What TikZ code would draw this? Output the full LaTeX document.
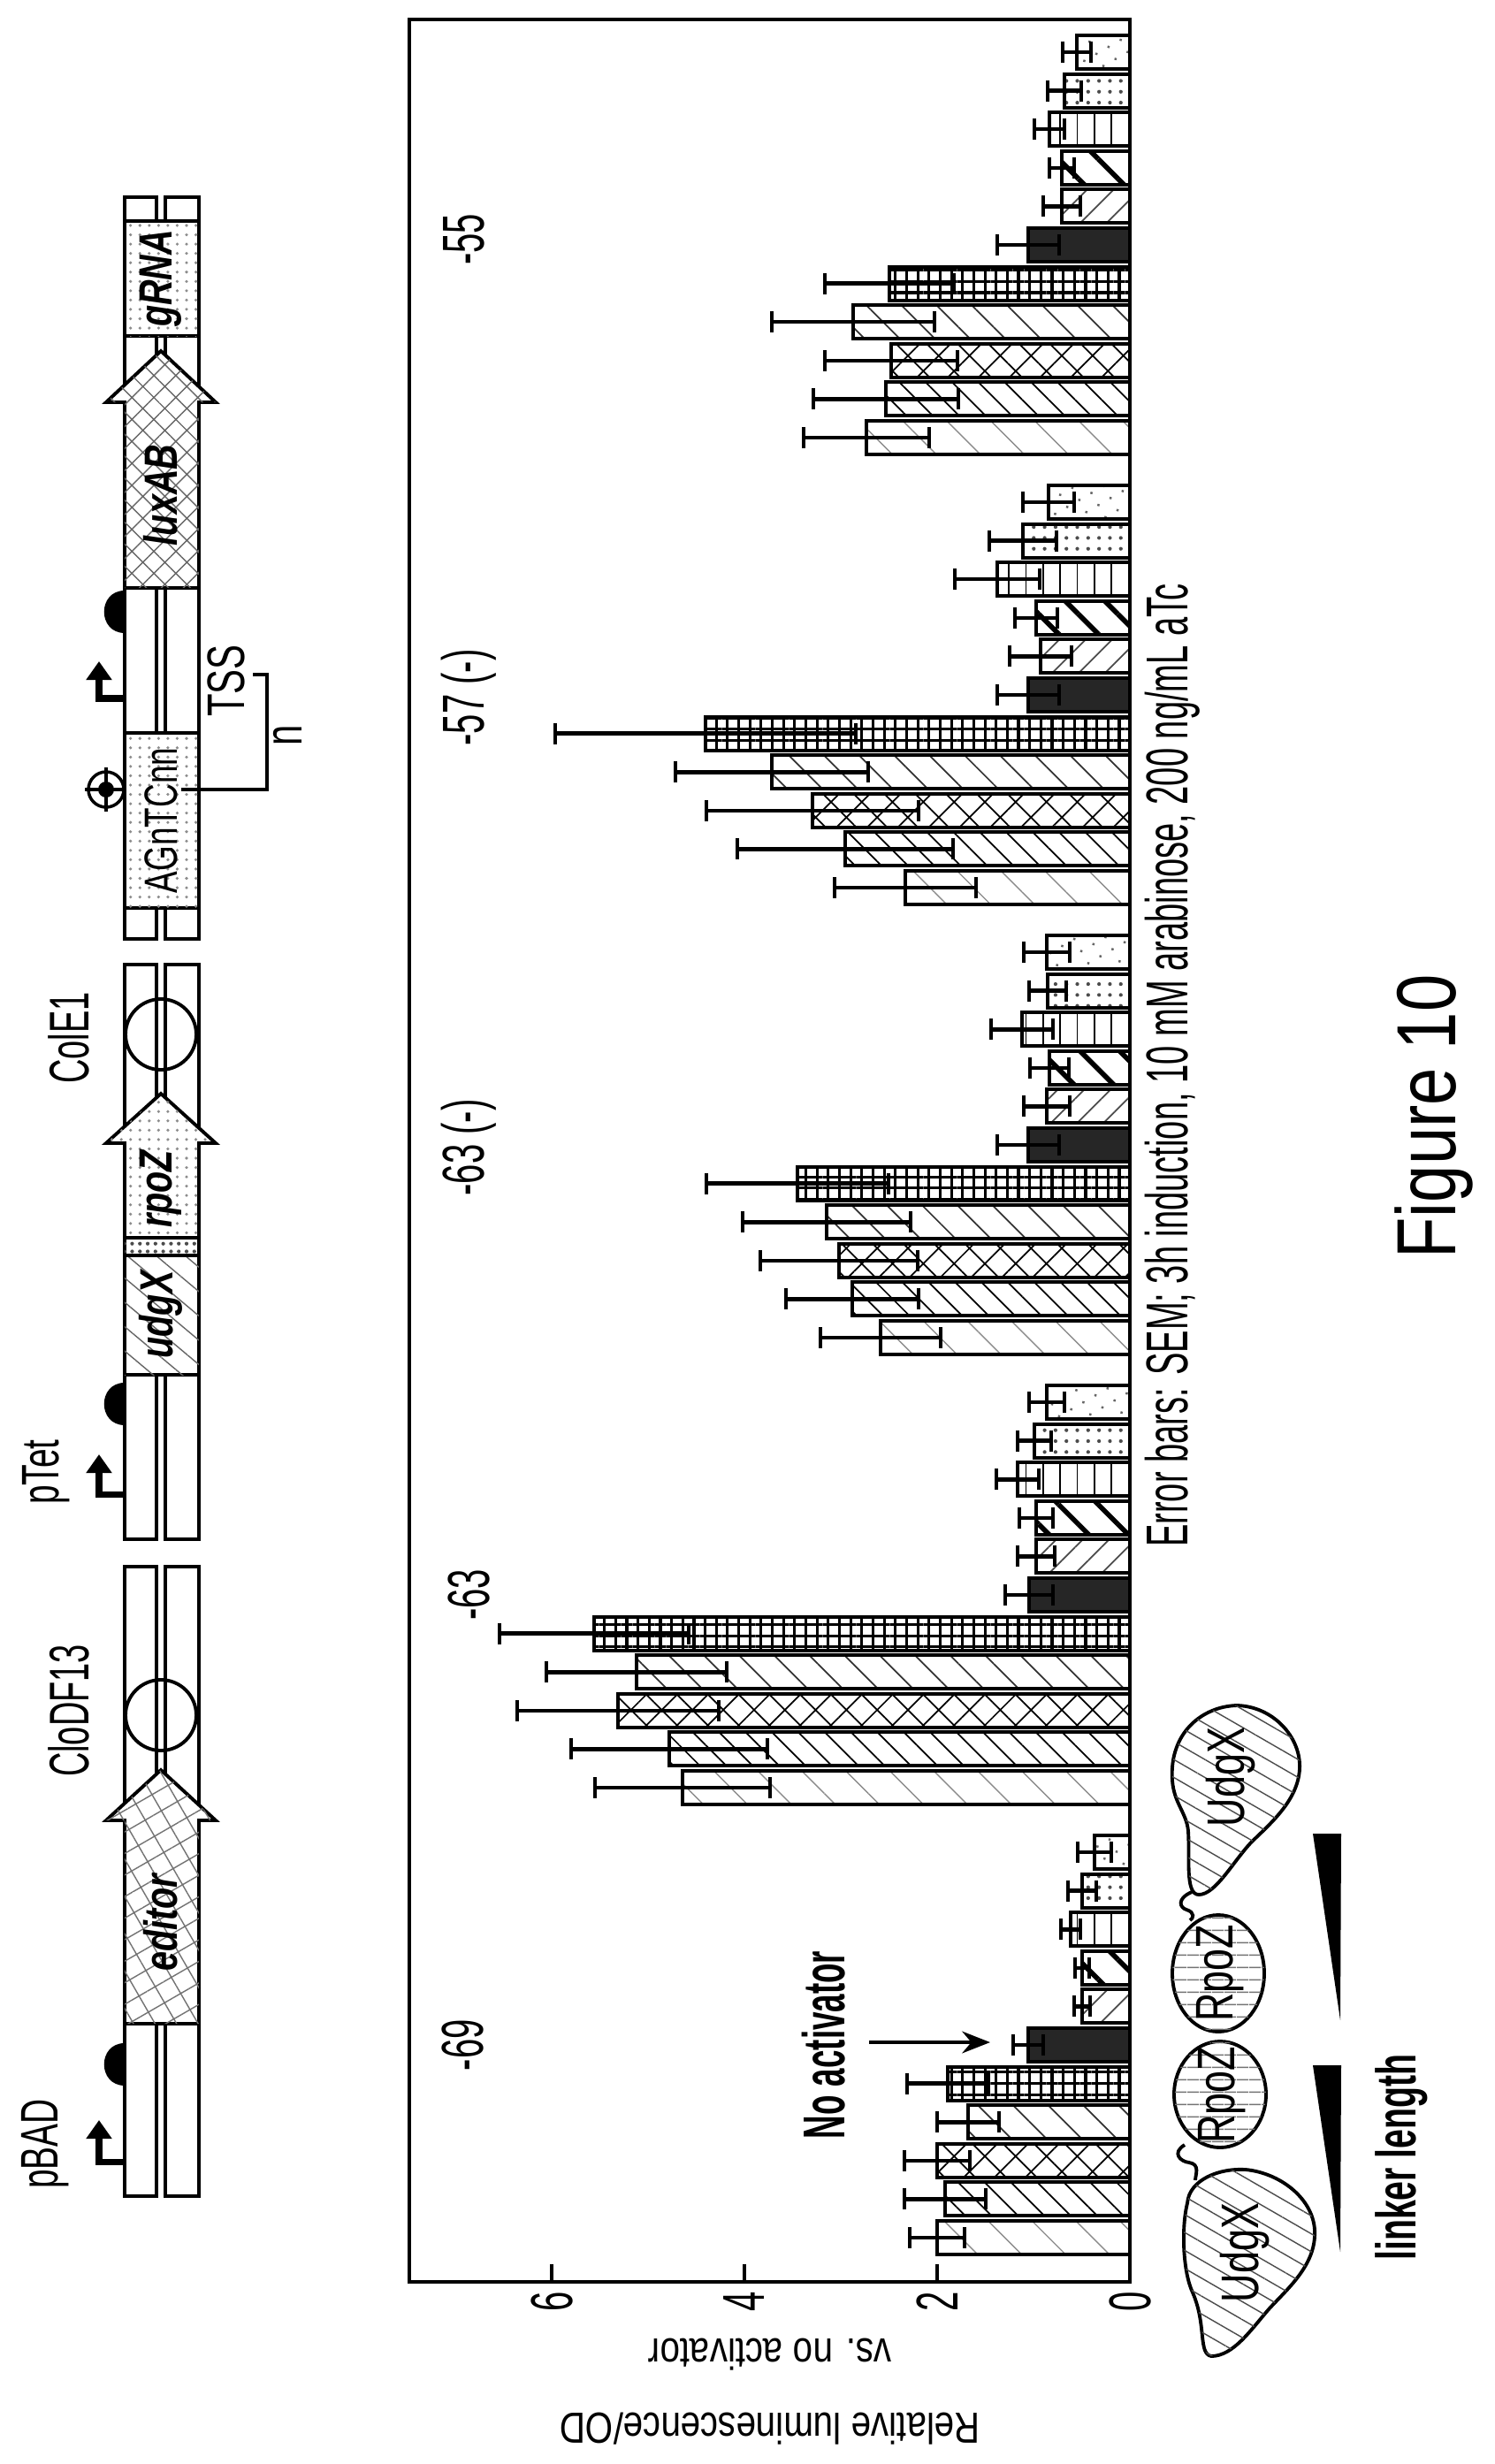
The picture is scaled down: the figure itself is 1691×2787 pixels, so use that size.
\documentclass[tikz,border=0pt]{standalone}
\usepackage{fontspec}
\usepackage{graphicx}
\setmainfont{Liberation Sans}
\usetikzlibrary{patterns,patterns.meta,arrows.meta}
\newcommand\nar[2][0.6]{\scalebox{#1}[1]{#2}}
\newcommand\fsz[1]{\fontsize{#1}{#1}\selectfont}
\tikzset{
  barout/.style={draw=black,line width=1.1pt},
  b0/.style={pattern={Lines[angle=-45,distance=10pt,line width=0.4pt]},pattern color=black!45},
  b1/.style={pattern={Lines[angle=-45,distance=6pt,line width=0.5pt]}},
  b2/.style={pattern={Hatch[angle=45,distance=7pt,line width=0.5pt]}},
  b3/.style={pattern={Lines[angle=-45,distance=8pt,line width=0.5pt]},pattern color=black!80},
  b4/.style={pattern={Hatch[angle=0,distance=3.6pt,line width=0.9pt]}},
  b5/.style={fill=black!85},
  b6/.style={pattern={Lines[angle=45,distance=6pt,line width=0.5pt]},pattern color=black!70},
  b7/.style={pattern={Lines[angle=-45,distance=9pt,line width=1.6pt]}},
  b8/.style={pattern={Lines[angle=90,distance=5.5pt,line width=0.5pt]}},
  b9/.style={pattern={Dots[radius=0.6pt,distance=3.5pt]},pattern color=black!70},
  b10/.style={pattern={Dots[radius=0.5pt,distance=4.5pt,angle=30]},pattern color=black!60},
  eb/.style={line width=1.3pt},
  lab/.style={rotate=90,inner sep=0pt,font=\fsz{19pt}},
  strand/.style={line width=1.1pt},
  gene/.style={draw,line width=1.1pt},
  prom/.style={line width=2pt,-{Triangle[width=8pt,length=6pt]}},
  glab/.style={rotate=90,inner sep=0pt,font=\fsz{15pt}\bfseries\itshape},
  blob/.style={draw,line width=1.1pt,fill=white},
}
\begin{document}
\begin{tikzpicture}[x=0.01cm,y=-0.01cm]
\useasboundingbox (0,0) rectangle (1691,2787);

% ---------------- chart frame ----------------
\draw[line width=1.2pt] (463,22) rectangle (1278,2581);
\foreach \v/\X in {0/1278,2/1060,4/842,6/624}{
  \draw[line width=1.2pt] (\X,2581) -- (\X,2561);
  \node[lab] (tick\v) at (\X,2603) {\nar{\v}};
}
\node[rotate=180,align=center,inner sep=0pt,font=\fsz{14pt}] (ytitle) at (871,2705)
  {\nar[0.82]{Relative luminescence/OD}\\[10pt]\nar[0.82]{vs. no activator}};

% ---------------- bars ----------------
\foreach \g/\i/\l/\e in {
 0/0/980/909, 0/1/1002/920, 0/2/1008/933, 0/3/965/873, 0/4/1006/933, 0/5/1163/1128, 0/6/1201/1180, 0/7/1201/1187, 0/8/1187/1170, 0/9/1204/1185, 0/10/1218/1202,
 1/0/1024/944, 1/1/956/834, 1/2/919/799, 1/3/873/764, 1/4/798/628, 1/5/1163/1128, 1/6/1177/1142, 1/7/1172/1148, 1/8/1128/1080, 1/9/1157/1119, 1/10/1186/1157,
 2/0/996/928, 2/1/964/889, 2/2/949/860, 2/3/935/840, 2/4/902/799, 2/5/1163/1128, 2/6/1184/1158, 2/7/1187/1165, 2/8/1156/1121, 2/9/1185/1164, 2/10/1184/1158,
 3/0/772/673, 3/1/757/646, 3/2/699/585, 3/3/720/618, 3/4/672/565, 3/5/1164/1137, 3/6/1172/1151, 3/7/1172/1153, 3/8/1151/1127, 3/9/1170/1151, 3/10/1184/1164,
 4/0/1060/1029, 4/1/1069/1023, 4/2/1060/1023, 4/3/1095/1060, 4/4/1072/1026, 4/5/1163/1146, 4/6/1224/1215, 4/7/1224/1216, 4/8/1211/1200, 4/9/1224/1208, 4/10/1238/1219}{
  \pgfmathsetmacro\yt{40+509*\g+(10-\i)*43.6}
  \pgfmathsetmacro\yb{\yt+38}
  \pgfmathsetmacro\yc{\yt+19}
  \pgfmathsetmacro\ein{2*\l-\e}
  \fill[white] (\l,\yt) rectangle (1278,\yb);
  \path[b\i] (\l,\yt) rectangle (1278,\yb);
  \draw[barout] (\l,\yt) rectangle (1278,\yb);
  \draw[eb] (\e,\yc) -- (\ein,\yc);
  \draw[eb] (\e,\yc-12) -- (\e,\yc+12);
  \draw[eb] (\ein,\yc-12) -- (\ein,\yc+12);
}

\node[lab] (g55) at (525,271) {\nar{-55}};
\node[lab] (g57) at (530,789) {\nar{-57 (-)}};
\node[lab] (g63m) at (530,1298) {\nar{-63 (-)}};
\node[lab] (g63) at (530,1804) {\nar{-63}};
\node[lab] (g69) at (523,2313) {\nar{-69}};

\node[lab,font=\fsz{19pt}\bfseries] (noact) at (932,2313) {\nar[0.55]{No activator}};
\coordinate (na1) at (983,2310);
\coordinate (na2) at (1120,2310);
\draw[line width=1.3pt,-{Stealth[length=9pt,width=7pt]}] (na1) -- (na2);

\node[lab] (errtxt) at (1326,1205) {\nar[0.57]{Error bars: SEM; 3h induction, 10 mM arabinose, 200 ng/mL aTc}};
\node[rotate=90,inner sep=0pt,font=\fsz{27pt}] (fig) at (1622,1263) {\nar[0.8]{Figure 10}};

% ---------------- plasmids ----------------
\foreach \a/\b in {1772/2484,1091/1741,223/1062}{
  \draw[strand] (141,\a) rectangle (177,\b);
  \draw[strand] (187,\a) rectangle (225,\b);
}
% P1
\draw[gene,fill=white] (141,2289) -- (141,2059) -- (120,2059) -- (182,2002) -- (244,2059) -- (225,2059) -- (225,2289) -- cycle;
\path[pattern={Hatch[angle=30,distance=6pt,line width=0.4pt]},pattern color=black!55] (141,2289) -- (141,2059) -- (120,2059) -- (182,2002) -- (244,2059) -- (225,2059) -- (225,2289) -- cycle;
\node[glab] (editor) at (182,2175) {\nar[0.75]{editor}};
\draw[line width=1.1pt] (182,1940) circle (40);
\fill (141,2311) .. controls (110,2311) and (110,2359) .. (141,2359) -- cycle;
\coordinate (p1a) at (141,2445);
\coordinate (p1b) at (112,2398);
\draw[prom] (p1a) -| (p1b);
\node[lab,font=\fsz{17pt}] (pBAD) at (51,2425) {\nar[0.65]{pBAD}};
\node[lab,font=\fsz{18pt}] (CloDF) at (78,1935) {\nar[0.6]{CloDF13}};

% P2
\fill (141,1564) .. controls (110,1564) and (110,1612) .. (141,1612) -- cycle;
\coordinate (p2a) at (141,1690);
\coordinate (p2b) at (112,1645);
\draw[prom] (p2a) -| (p2b);
\draw[gene,fill=white] (141,1420) rectangle (225,1555);
\path[pattern={Lines[angle=-40,distance=6pt,line width=0.4pt]},pattern color=black!60] (141,1420) rectangle (225,1555);
\node[glab] (udgX) at (182,1487) {\nar[0.75]{udgX}};
\draw[gene,fill=white] (141,1400) rectangle (225,1420);
\path[pattern={Dots[radius=0.6pt,distance=2.5pt]},pattern color=black!70] (141,1400) rectangle (225,1420);
\draw[gene,fill=white] (141,1400) -- (141,1293) -- (120,1293) -- (182,1237) -- (244,1293) -- (225,1293) -- (225,1400) -- cycle;
\path[pattern={Dots[radius=0.5pt,distance=3pt]},pattern color=black!45] (141,1400) -- (141,1293) -- (120,1293) -- (182,1237) -- (244,1293) -- (225,1293) -- (225,1400) -- cycle;
\node[glab] (rpoZ) at (182,1345) {\nar[0.75]{rpoZ}};
\draw[line width=1.1pt] (182,1170) circle (40);
\node[lab,font=\fsz{17pt}] (pTet) at (52,1665) {\nar[0.65]{pTet}};
\node[lab,font=\fsz{18pt}] (ColE) at (78,1174) {\nar[0.6]{ColE1}};

% P3
\draw[gene,fill=white] (141,829) rectangle (225,1027);
\path[pattern={Dots[radius=0.5pt,distance=3pt]},pattern color=black!45] (141,829) rectangle (225,1027);
\node[lab,font=\fsz{15pt}] (agn) at (182,928) {\nar[0.7]{AGnTCnn}};
\coordinate (p3a) at (141,790);
\coordinate (p3b) at (112,748);
\draw[prom] (p3a) -| (p3b);
\fill (141,668) .. controls (110,668) and (110,716) .. (141,716) -- cycle;
\draw[gene,fill=white] (141,665) -- (141,455) -- (120,455) -- (182,397) -- (244,455) -- (225,455) -- (225,665) -- cycle;
\path[pattern={Hatch[angle=45,distance=5pt,line width=0.4pt]},pattern color=black!60] (141,665) -- (141,455) -- (120,455) -- (182,397) -- (244,455) -- (225,455) -- (225,665) -- cycle;
\node[glab] (lux) at (182,560) {\nar[0.75]{luxAB}};
\draw[gene,fill=white] (141,250) rectangle (225,380);
\path[pattern={Dots[radius=0.5pt,distance=3pt]},pattern color=black!45] (141,250) rectangle (225,380);
\node[glab] (gRNA) at (182,315) {\nar[0.75]{gRNA}};
% target symbol
\draw[line width=1pt] (120,893) circle (20);
\draw[line width=1.2pt] (96,893) -- (143,893);
\draw[line width=1.2pt] (120,868) -- (120,918);
\fill (120,893) circle (9);
% TSS bracket
\coordinate (t1) at (205,893);
\coordinate (t2) at (302,893);
\coordinate (t3) at (302,763);
\coordinate (t4) at (286,763);
\draw[line width=1.1pt] (t1) -- (t2) -- (t3) -- (t4);
\node[lab,font=\fsz{17pt}] (TSS) at (256,770) {\nar[0.7]{TSS}};
\node[lab,font=\fsz{17pt}] (nn) at (325,832) {\nar[0.7]{n}};

% ---------------- legend ----------------
\def\blobA{(1326,2014) .. controls (1322,1960) and (1360,1930) .. (1399,1929)
  .. controls (1440,1930) and (1472,1965) .. (1470,2001)
  .. controls (1468,2035) and (1440,2060) .. (1416,2083)
  .. controls (1395,2105) and (1375,2143) .. (1356,2143)
  .. controls (1340,2143) and (1346,2100) .. (1344,2071)
  .. controls (1342,2050) and (1328,2040) .. (1326,2014) -- cycle}
\def\blobB{(1343,2492) .. controls (1345,2465) and (1380,2452) .. (1409,2454)
  .. controls (1450,2458) and (1490,2490) .. (1487,2530)
  .. controls (1485,2565) and (1455,2590) .. (1435,2612)
  .. controls (1415,2635) and (1395,2665) .. (1370,2665)
  .. controls (1355,2662) and (1365,2630) .. (1349,2593)
  .. controls (1338,2570) and (1336,2520) .. (1343,2492) -- cycle}
\draw[blob] \blobA;
\path[pattern={Lines[angle=-30,distance=5pt,line width=0.4pt]},pattern color=black!70] \blobA;
\node[lab,font=\fsz{17pt}] (u1) at (1392,2010) {\nar[0.75]{UdgX}};
\draw[blob] \blobB;
\path[pattern={Lines[angle=-30,distance=5pt,line width=0.4pt]},pattern color=black!70] \blobB;
\node[lab,font=\fsz{17pt}] (u2) at (1408,2548) {\nar[0.75]{UdgX}};

\draw[blob] (1378,2232) ellipse [x radius=52, y radius=66];
\path[pattern={Lines[angle=0,distance=4pt,line width=0.4pt]},pattern color=black!55] (1378,2232) ellipse [x radius=52, y radius=66];
\node[lab,font=\fsz{17pt}] (r1) at (1380,2232) {\nar[0.75]{RpoZ}};
\draw[blob] (1380,2369) ellipse [x radius=52, y radius=60];
\path[pattern={Lines[angle=0,distance=4pt,line width=0.4pt]},pattern color=black!55] (1380,2369) ellipse [x radius=52, y radius=60];
\node[lab,font=\fsz{17pt}] (r2) at (1382,2370) {\nar[0.75]{RpoZ}};
% linkers
\draw[line width=1.1pt] (1348,2140) .. controls (1330,2148) and (1335,2158) .. (1342,2160) .. controls (1352,2163) and (1350,2170) .. (1346,2172);
\draw[line width=1.1pt] (1340,2426) .. controls (1325,2435) and (1335,2445) .. (1345,2446) .. controls (1358,2448) and (1352,2460) .. (1352,2466);
% wedges
\fill (1485,2074) -- (1517,2074) -- (1516,2285) -- cycle;
\fill (1485,2336) -- (1517,2336) -- (1516,2547) -- cycle;
\node[lab,font=\fsz{18pt}\bfseries] (link) at (1585,2440) {\nar[0.62]{linker length}};
\end{tikzpicture}
\end{document}
